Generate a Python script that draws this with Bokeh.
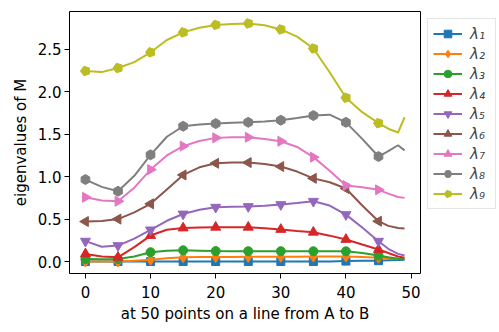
import numpy as np
from bokeh.plotting import figure
from bokeh.models import Legend, LegendItem, Range1d, FixedTicker, CustomJSTickFormatter
from bokeh.embed import file_html
from bokeh.resources import INLINE

# sample positions along the line (points 0..49)
x_pts = [0, 2.5, 5, 7.5, 10, 12.5, 15, 17.5, 20, 22.5, 25, 27.5, 30, 32.5,
         35, 37.5, 40, 42.5, 45, 46.5, 48, 49]
marker_x = [0, 5, 10, 15, 20, 25, 30, 35, 40, 45]

lam1 = [0, 0, 0, 0, 0, 0, 0, 0, 0, 0, 0, 0, 0, 0, 0, 0, 0.005, 0.008, 0.01, 0.014, 0.018, 0.02]
lam2 = [0, 0, 0, 0.01, 0.02, 0.04, 0.05, 0.052, 0.053, 0.054, 0.055, 0.056, 0.056, 0.057,
        0.058, 0.058, 0.058, 0.052, 0.045, 0.038, 0.032, 0.03]
lam3 = [0.03, 0.028, 0.03, 0.06, 0.11, 0.128, 0.132, 0.128, 0.123, 0.122, 0.122, 0.122, 0.122,
        0.122, 0.121, 0.121, 0.12, 0.1, 0.07, 0.05, 0.032, 0.025]
lam4 = [0.09, 0.06, 0.05, 0.17, 0.306, 0.375, 0.395, 0.402, 0.404, 0.405, 0.404, 0.393, 0.378,
        0.36, 0.345, 0.305, 0.26, 0.2, 0.141, 0.1, 0.06, 0.045]
lam5 = [0.24, 0.175, 0.188, 0.27, 0.373, 0.48, 0.56, 0.61, 0.64, 0.645, 0.648, 0.658, 0.671,
        0.69, 0.71, 0.66, 0.553, 0.4, 0.239, 0.15, 0.09, 0.07]
lam6 = [0.471, 0.478, 0.50, 0.58, 0.68, 0.85, 1.02, 1.11, 1.158, 1.168, 1.166, 1.15, 1.119,
        1.06, 0.98, 0.934, 0.86, 0.66, 0.475, 0.42, 0.395, 0.39]
lam7 = [0.757, 0.72, 0.71, 0.87, 1.083, 1.25, 1.36, 1.42, 1.457, 1.465, 1.464, 1.445, 1.417,
        1.35, 1.23, 1.07, 0.895, 0.875, 0.845, 0.80, 0.76, 0.75]
lam8 = [0.966, 0.88, 0.828, 1.01, 1.257, 1.47, 1.594, 1.615, 1.625, 1.635, 1.64, 1.65, 1.665,
        1.69, 1.72, 1.73, 1.64, 1.445, 1.237, 1.30, 1.37, 1.31]
lam9 = [2.245, 2.232, 2.28, 2.35, 2.465, 2.61, 2.70, 2.755, 2.788, 2.80, 2.805, 2.785, 2.735,
        2.65, 2.51, 2.23, 1.93, 1.76, 1.63, 1.565, 1.52, 1.70]

series = [lam1, lam2, lam3, lam4, lam5, lam6, lam7, lam8, lam9]
labels = ["λ₁", "λ₂", "λ₃", "λ₄", "λ₅", "λ₆", "λ₇", "λ₈", "λ₉"]
colors = ["#1f77b4", "#ff7f0e", "#2ca02c", "#d62728", "#9467bd",
          "#8c564b", "#e377c2", "#7f7f7f", "#bcbd22"]
markers = [("square", 0, 8), ("diamond", 0, 11), ("circle", 0, 9), ("triangle", 0, 10),
           ("inverted_triangle", 0, 10), ("triangle", np.pi / 2, 10),
           ("triangle", -np.pi / 2, 10), ("hex", np.pi / 6, 10), ("pentagon", 0, 5)]

FONT = "DejaVu Sans"
FS = "15px"

p = figure(width=491, height=324, output_backend="svg", toolbar_location=None,
           frame_width=351, frame_height=262,
           min_border_left=69, min_border_top=11, min_border_right=0, min_border_bottom=51,
           x_range=Range1d(-2.45, 51.45), y_range=Range1d(-0.141, 2.946))
p.xgrid.visible = False
p.ygrid.visible = False
p.outline_line_color = "black"
p.outline_line_width = 1
p.background_fill_color = "white"
p.border_fill_color = "white"

for ax in (p.xaxis[0], p.yaxis[0]):
    ax.axis_line_color = None
    ax.major_tick_line_color = "black"
    ax.minor_tick_line_color = None
    ax.major_tick_in = 0
    ax.major_tick_out = 5
    ax.major_label_text_font = FONT
    ax.major_label_text_font_size = FS
    ax.major_label_text_color = "black"
    ax.axis_label_text_font = FONT
    ax.axis_label_text_font_size = FS
    ax.axis_label_text_font_style = "normal"
    ax.axis_label_text_color = "black"

p.xaxis.ticker = FixedTicker(ticks=[0, 10, 20, 30, 40, 50])
p.yaxis.ticker = FixedTicker(ticks=[0.0, 0.5, 1.0, 1.5, 2.0, 2.5])
p.yaxis.formatter = CustomJSTickFormatter(code="return tick.toFixed(1);")
p.xaxis.axis_label = "at 50 points on a line from A to B"
p.yaxis.axis_label = "eigenvalues of M"
p.xaxis.major_label_standoff = 7
p.yaxis.major_label_standoff = 3
p.xaxis.axis_label_standoff = 4
p.yaxis.axis_label_standoff = 5

items = []
for vals, lab, col, (mk, ang, sz) in zip(series, labels, colors, markers):
    ln = p.line(x_pts, vals, line_color=col, line_width=2)
    my = [vals[x_pts.index(m)] for m in marker_x]
    if mk == "pentagon":
        sc = p.ngon(marker_x, my, radius=sz, radius_units="screen", n=5, angle=np.pi / 2,
                    fill_color=col, line_color=col)
    else:
        sc = p.scatter(marker_x, my, marker=mk, angle=ang, size=sz,
                       fill_color=col, line_color=col)
    items.append(LegendItem(label=lab, renderers=[ln, sc]))

legend = Legend(items=items, location="top_left")
legend.label_text_font = FONT
legend.label_text_font_size = FS
legend.label_text_font_style = "italic"
legend.padding = 5
legend.spacing = 1
legend.glyph_height = 19
legend.label_height = 19
legend.glyph_width = 29
legend.label_standoff = 8
legend.margin = 7
legend.border_line_color = "#cccccc"
legend.border_line_width = 1
legend.background_fill_alpha = 0.8
p.add_layout(legend, "right")

open("out.html", "w").write(file_html(p, INLINE))
